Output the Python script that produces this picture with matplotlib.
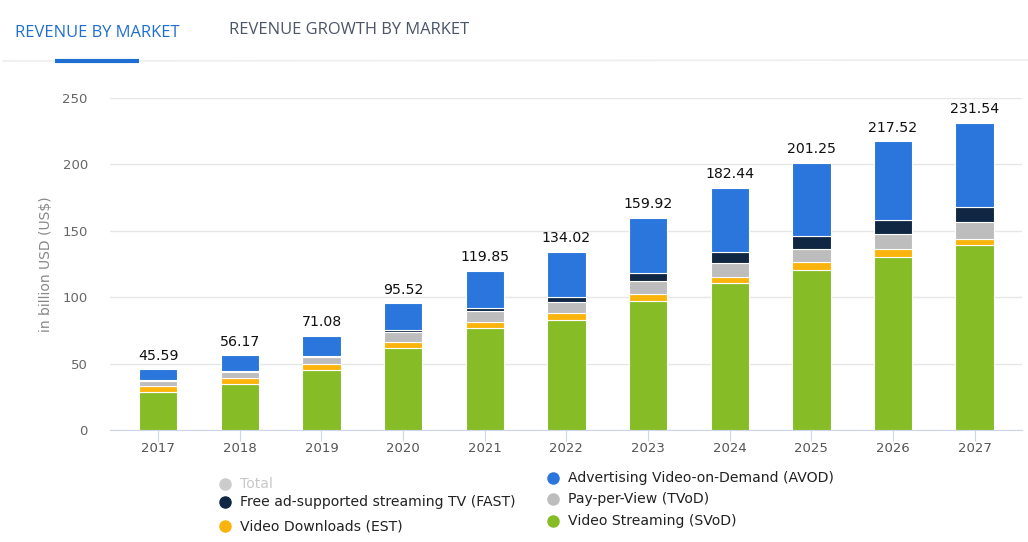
import numpy as np
import matplotlib
matplotlib.use("Agg")
import matplotlib.pyplot as plt

years = ["2017", "2018", "2019", "2020", "2021", "2022",
         "2023", "2024", "2025", "2026", "2027"]
svod = [28.5, 35.0, 45.0, 61.5, 76.5, 83.2, 97.5, 110.5, 120.5, 130.5, 139.5]
est = [4.3, 4.5, 4.4, 4.5, 4.8, 4.6, 5.0, 5.0, 5.7, 5.7, 4.7]
tvod = [4.3, 4.5, 5.6, 7.8, 8.0, 8.7, 9.4, 10.6, 10.3, 11.3, 12.3]
fast = [0.3, 0.4, 0.6, 1.2, 2.4, 4.0, 6.3, 8.3, 9.8, 10.3, 11.3]
avod = [8.2, 11.8, 15.5, 20.5, 28.1, 33.5, 41.7, 48.0, 54.9, 59.7, 63.7]
totals = [45.59, 56.17, 71.08, 95.52, 119.85, 134.02,
          159.92, 182.44, 201.25, 217.52, 231.54]

series = [
    ("Video Streaming (SVoD)", svod, "#86bc25"),
    ("Video Downloads (EST)", est, "#fbb40b"),
    ("Pay-per-View (TVoD)", tvod, "#bdbdbd"),
    ("Free ad-supported streaming TV (FAST)", fast, "#0f2742"),
    ("Advertising Video-on-Demand (AVOD)", avod, "#2a76dc"),
]

W, H = 1028, 542
fig = plt.figure(figsize=(W / 100, H / 100), dpi=100)
ax = fig.add_axes([110 / W, (H - 430) / H, 912 / W, 332 / H])

x = np.arange(len(years))
bottom = np.zeros(len(years))
for name, vals, col in series:
    ax.bar(x, vals, width=0.47, bottom=bottom, color=col,
           edgecolor="white", linewidth=0.8, zorder=3)
    bottom += np.array(vals)

for xi, t, b in zip(x, totals, bottom):
    ax.text(xi, b + 5, "{:.2f}".format(t), ha="center", va="bottom",
            fontsize=10.2, color="#111111")

ax.set_xlim(-0.59, len(years) - 0.42)
ax.set_ylim(0, 250)
ax.set_yticks([0, 50, 100, 150, 200, 250])
ax.grid(axis="y", color="#e6e6e6", linewidth=1, zorder=0)
for s in ["top", "right", "left"]:
    ax.spines[s].set_visible(False)
ax.spines["bottom"].set_color("#ccd6eb")
ax.set_xticks(x)
ax.set_xticklabels(years)
ax.tick_params(axis="x", colors="#ccd6eb", length=8, labelcolor="#555555",
               labelsize=9.5, pad=1)
ax.tick_params(axis="y", length=0, labelcolor="#666666", labelsize=9.5,
               pad=16)
ax.set_ylabel("in billion USD (US$)", color="#888888", fontsize=10,
              labelpad=7)

# overlay for tabs and legend
ov = fig.add_axes([0, 0, 1, 1], zorder=-1)
ov.set_xlim(0, W)
ov.set_ylim(H, 0)
ov.axis("off")
ov.text(15, 33, "REVENUE BY MARKET", color="#1f6fd1", fontsize=11.9,
        family="Open Sans", va="center")
ov.text(229, 30, "REVENUE GROWTH BY MARKET", color="#4b5566", fontsize=11.9,
        family="Open Sans", va="center")
ov.plot([3, W], [61, 60], color="#eeeeee", lw=1.2)
ov.plot([55, 139], [61, 61], color="#1f6fd1", lw=3, solid_capstyle="butt")

legend_left = [("Total", "#cccccc", "#c8c8c8", 484),
               (series[3][0], series[3][2], "#222222", 502),
               (series[1][0], series[1][2], "#222222", 526)]
legend_right = [(series[4][0], series[4][2], "#222222", 478),
                (series[2][0], series[2][2], "#222222", 499),
                (series[0][0], series[0][2], "#222222", 521)]
for items, mx in [(legend_left, 225), (legend_right, 553)]:
    for label, col, tcol, yy in items:
        ov.plot(mx, yy, "o", color=col, markersize=8)
        ov.text(mx + 15, yy, label, color=tcol, fontsize=10.1,
                family="DejaVu Sans", va="center")

fig.savefig("out.png", dpi=100)
